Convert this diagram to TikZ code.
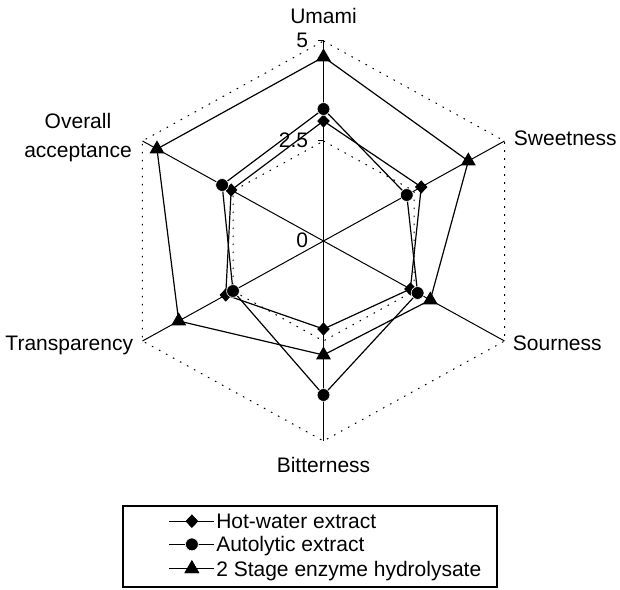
\documentclass[tikz,border=0pt]{standalone}
\usepackage{fontspec}
\setmainfont{Liberation Sans}
\usetikzlibrary{shapes.geometric}

\tikzset{
  axlabel/.style={inner sep=0pt, font=\fontsize{10.5pt}{12.6pt}\selectfont},
  gridring/.style={line width=0.5pt, dash pattern=on 0.8pt off 3.2pt},
  axisline/.style={line width=0.5pt},
  seriesline/.style={line width=0.6pt, line join=round},
  hwmark/.style={diamond, fill=black, inner sep=0pt, minimum width=6.4pt, minimum height=6.8pt},
  almark/.style={circle, fill=black, draw=white, line width=0.3pt, inner sep=0pt, minimum size=6.4pt},
  enmark/.style={regular polygon, regular polygon sides=3, fill=black, inner sep=0pt, minimum size=8.6pt},
}

\begin{document}
\begin{tikzpicture}[x=20.9pt, y=20pt]
% Frame of the figure
\useasboundingbox (-161.75pt,-174pt) rectangle (148.25pt,120.5pt);
% Axis ends (score 5) and half ring (score 2.5)
\coordinate (ctr) at (0,0);
\coordinate (ax1) at (90:5);
\coordinate (ax2) at (30:5);
\coordinate (ax3) at (-30:5);
\coordinate (ax4) at (-90:5);
\coordinate (ax5) at (210:5);
\coordinate (ax6) at (150:5);
\coordinate (gr1) at (90:2.5);
\coordinate (gr2) at (30:2.5);
\coordinate (gr3) at (-30:2.5);
\coordinate (gr4) at (-90:2.5);
\coordinate (gr5) at (210:2.5);
\coordinate (gr6) at (150:2.5);
% Dotted rings
\draw[gridring] (ax1) -- (ax2) -- (ax3) -- (ax4) -- (ax5) -- (ax6) -- cycle;
\draw[gridring] (gr1) -- (gr2) -- (gr3) -- (gr4) -- (gr5) -- (gr6) -- cycle;
% Axes
\begin{scope}[axisline]
  \draw (ctr) -- (ax1);
  \draw (ctr) -- (ax2);
  \draw (ctr) -- (ax3);
  \draw (ctr) -- (ax4);
  \draw (ctr) -- (ax5);
  \draw (ctr) -- (ax6);
  \draw (ax1) -- ++(-3pt,0);
  \draw (gr1) -- ++(-3pt,0);
\end{scope}
% Scale labels
\node[axlabel, anchor=base east] (t5) at ([xshift=-7.5pt,yshift=-3.25pt]ax1) {5};
\node[axlabel, anchor=base east] (t25) at ([xshift=-7.5pt,yshift=-3.25pt]gr1) {2.5};
\node[axlabel, anchor=base east] (t0) at ([xshift=-7.5pt,yshift=-3.25pt]ctr) {0};
% Attribute labels
\node[axlabel, anchor=base] (umami) at ([yshift=8.5pt]ax1) {Umami};
\node[axlabel, anchor=base west] (sweet) at ([xshift=4.5pt,yshift=-2.35pt]ax2) {Sweetness};
\node[axlabel, anchor=base west] (sour) at ([xshift=4pt,yshift=-4.95pt]ax3) {Sourness};
\node[axlabel, anchor=base] (bitter) at ([yshift=-15.75pt]ax4) {Bitterness};
\node[axlabel, anchor=base east] (transp) at ([xshift=-4.5pt,yshift=-4.95pt]ax5) {Transparency};
\node[axlabel, align=center, font=\fontsize{10.5pt}{14.5pt}\selectfont] (overall)
  at ([xshift=-32.25pt,yshift=1.5pt]ax6) {Overall\\acceptance};
% Hot-water extract
\coordinate (hw1) at (90:3.0);
\coordinate (hw2) at (30:2.7);
\coordinate (hw3) at (-30:2.4);
\coordinate (hw4) at (-90:2.2);
\coordinate (hw5) at (210:2.7);
\coordinate (hw6) at (150:2.55);
% Autolytic extract
\coordinate (al1) at (90:3.3);
\coordinate (al2) at (30:2.3);
\coordinate (al3) at (-30:2.6);
\coordinate (al4) at (-90:3.85);
\coordinate (al5) at (210:2.5);
\coordinate (al6) at (150:2.8);
% 2 stage enzyme hydrolysate
\coordinate (en1) at (90:4.6);
\coordinate (en2) at (30:4.0);
\coordinate (en3) at (-30:2.95);
\coordinate (en4) at (-90:2.85);
\coordinate (en5) at (210:4.0);
\coordinate (en6) at (150:4.6);
% Series outlines
\draw[seriesline] (hw1) -- (hw2) -- (hw3) -- (hw4) -- (hw5) -- (hw6) -- cycle;
\draw[seriesline] (al1) -- (al2) -- (al3) -- (al4) -- (al5) -- (al6) -- cycle;
\draw[seriesline] (en1) -- (en2) -- (en3) -- (en4) -- (en5) -- (en6) -- cycle;
% Markers
\node[hwmark] (hwm1) at (hw1) {};
\node[hwmark] (hwm2) at (hw2) {};
\node[hwmark] (hwm3) at (hw3) {};
\node[hwmark] (hwm4) at (hw4) {};
\node[hwmark] (hwm5) at (hw5) {};
\node[hwmark] (hwm6) at (hw6) {};
\node[almark] (alm1) at (al1) {};
\node[almark] (alm2) at (al2) {};
\node[almark] (alm3) at (al3) {};
\node[almark] (alm4) at (al4) {};
\node[almark] (alm5) at (al5) {};
\node[almark] (alm6) at (al6) {};
\node[enmark] (enm1) at (en1) {};
\node[enmark] (enm2) at (en2) {};
\node[enmark] (enm3) at (en3) {};
\node[enmark] (enm4) at (en4) {};
\node[enmark] (enm5) at (en5) {};
\node[enmark] (enm6) at (en6) {};
% Legend
\node[draw, line width=0.6pt, inner sep=0pt, minimum width=187pt, minimum height=40.5pt] (legend) at (-6.75pt,-152.75pt) {};
\node[hwmark] (lgm1) at ([shift={(34.75pt,-7.9pt)}]legend.north west) {};
\node[almark] (lgm2) at ([shift={(34.75pt,-19.5pt)}]legend.north west) {};
\node[enmark] (lgm3) at ([shift={(34.75pt,-31.7pt)}]legend.north west) {};
\draw[seriesline] ([xshift=-11.25pt]lgm1.center) -- ([xshift=11.25pt]lgm1.center);
\draw[seriesline] ([xshift=-11.25pt]lgm2.center) -- ([xshift=11.25pt]lgm2.center);
\draw[seriesline] ([xshift=-11.25pt]lgm3.center) -- ([xshift=11.25pt]lgm3.center);
\node[hwmark] at (lgm1) {};
\node[almark] at (lgm2) {};
\node[enmark] at (lgm3) {};
\node[axlabel, anchor=base west] (lgt1) at ([xshift=12pt,yshift=-3.75pt]lgm1.center) {Hot-water extract};
\node[axlabel, anchor=base west] (lgt2) at ([xshift=12pt,yshift=-3.75pt]lgm2.center) {Autolytic extract};
\node[axlabel, anchor=base west] (lgt3) at ([xshift=12pt,yshift=-3.75pt]lgm3.center) {2 Stage enzyme hydrolysate};
\end{tikzpicture}
\end{document}
